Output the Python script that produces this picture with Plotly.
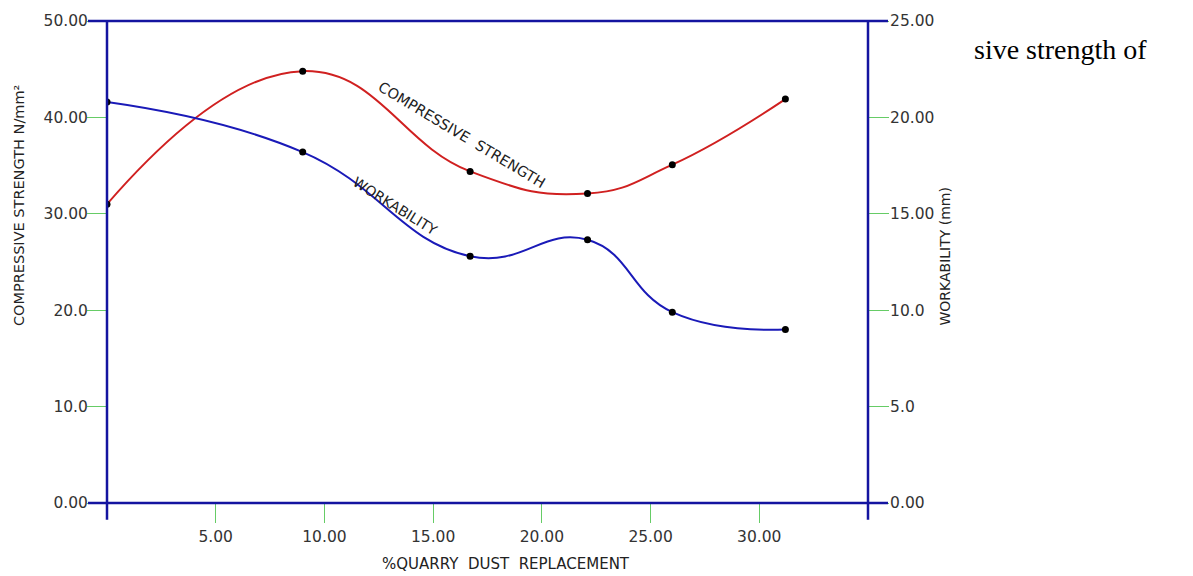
import plotly.graph_objects as go

# ---- data ----
replacement = [0.0, 9.0, 16.7, 22.1, 26.0, 31.2]
compressive = [31.0, 44.8, 34.4, 32.1, 35.1, 41.9]
workability = [20.8, 18.2, 12.8, 13.65, 9.9, 9.0]

x_tickvals = [5, 10, 15, 20, 25, 30]
x_ticktext = ["5.00", "10.00", "15.00", "20.00", "25.00", "30.00"]
y1_tickvals = [0, 10, 20, 30, 40, 50]
y1_ticktext = ["0.00", "10.0", "20.0", "30.00", "40.00", "50.00"]
y2_tickvals = [0, 5, 10, 15, 20, 25]
y2_ticktext = ["0.00", "5.0", "10.0", "15.00", "20.00", "25.00"]

W, H = 1193, 576
L, R, T, B = 107, 868, 16, 503  # plot area in px


def px(xp):
    return (xp - L) / (R - L)


def py(yp):
    return (B - yp) / (B - T)


AXIS_BLUE = "#1414a0"
GREEN = "#66cc66"
TXT = "#333333"
FONT = "DejaVu Sans"

fig = go.Figure()
fig.add_trace(go.Scatter(
    x=replacement, y=compressive, mode="lines+markers",
    line=dict(color="#d02020", width=2, shape="spline", smoothing=1.3),
    marker=dict(color="black", size=7), yaxis="y", showlegend=False))
fig.add_trace(go.Scatter(
    x=replacement, y=workability, mode="lines+markers",
    line=dict(color="#1a1ab8", width=2, shape="spline", smoothing=1.3),
    marker=dict(color="black", size=7), yaxis="y2", showlegend=False))

tickfont = dict(family=FONT, size=15.5, color=TXT)
fig.update_layout(
    width=W, height=H,
    margin=dict(l=L, r=W - R, t=T, b=H - B, pad=0),
    paper_bgcolor="white", plot_bgcolor="white",
    xaxis=dict(range=[0, 35], showgrid=False, zeroline=False, showline=False,
               tickvals=x_tickvals, ticktext=x_ticktext, ticks="outside",
               ticklen=19, tickcolor=GREEN, tickwidth=1, tickfont=tickfont),
    yaxis=dict(range=[0, 50], showgrid=False, zeroline=False, showline=False,
               tickvals=y1_tickvals, ticktext=y1_ticktext, ticks="outside",
               ticklen=19, tickcolor=GREEN, tickwidth=1, tickfont=tickfont,
               ticklabelstandoff=-4),
    yaxis2=dict(range=[0, 25], overlaying="y", side="right", showgrid=False,
                zeroline=False, showline=False, tickvals=y2_tickvals,
                ticktext=y2_ticktext, ticks="outside", ticklen=20,
                tickcolor=GREEN, tickwidth=1, tickfont=tickfont,
                ticklabelstandoff=-2),
)

# frame lines (extend past the corners like the reference)
line = dict(color=AXIS_BLUE, width=2.5)
shapes = [
    dict(type="line", xref="paper", yref="paper", x0=px(88), x1=px(888), y0=0, y1=0, line=line),
    dict(type="line", xref="paper", yref="paper", x0=px(88), x1=px(888), y0=1, y1=1, line=line),
    dict(type="line", xref="paper", yref="paper", x0=0, x1=0, y0=py(520), y1=1, line=line),
    dict(type="line", xref="paper", yref="paper", x0=1, x1=1, y0=py(520), y1=1, line=line),
]
fig.update_layout(shapes=shapes)

annotations = [
    dict(text="COMPRESSIVE STRENGTH N/mm²", x=px(19), y=py(203), textangle=-90,
         font=dict(family=FONT, size=14.5, color="#222")),
    dict(text="WORKABILITY (mm)", x=px(945), y=py(253), textangle=-90,
         font=dict(family=FONT, size=14, color="#222")),
    dict(text="%QUARRY  DUST  REPLACEMENT", x=px(506), y=py(565),
         font=dict(family=FONT, size=15, color="#222")),
    dict(text="COMPRESSIVE  STRENGTH", x=px(462), y=py(131), textangle=31,
         font=dict(family=FONT, size=14.5, color="#222")),
    dict(text="WORKABILITY", x=px(395), y=py(203), textangle=32,
         font=dict(family=FONT, size=14, color="#222")),
    dict(text="sive strength of", x=px(1060), y=py(45),
         font=dict(family="Liberation Serif", size=28, color="black")),
]
for a in annotations:
    a.update(xref="paper", yref="paper", showarrow=False, xanchor="center", yanchor="middle")
fig.update_layout(annotations=annotations)

fig.write_html("out.html")
